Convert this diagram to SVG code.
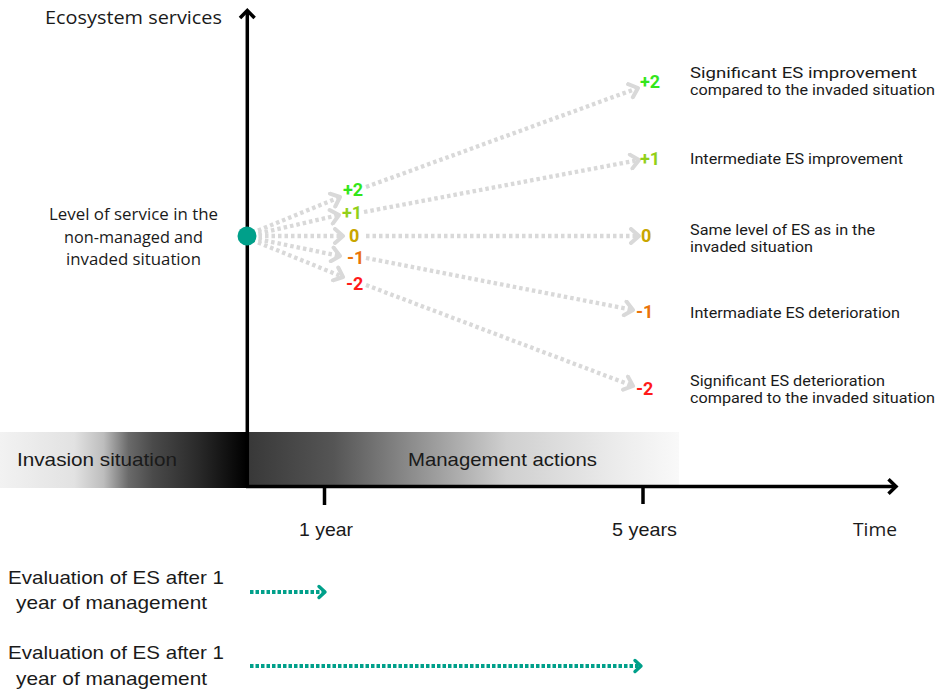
<svg xmlns="http://www.w3.org/2000/svg" width="939" height="691" viewBox="0 0 939 691">
<defs>
<linearGradient id="gLeft" x1="0" y1="0" x2="1" y2="0">
<stop offset="0" stop-color="#f2f2f2"/>
<stop offset="0.3" stop-color="#e2e2e2"/>
<stop offset="0.42" stop-color="#bdbdbd"/>
<stop offset="0.52" stop-color="#6a6a6a"/>
<stop offset="0.62" stop-color="#4a4a4a"/>
<stop offset="0.8" stop-color="#2a2a2a"/>
<stop offset="1" stop-color="#000"/>
</linearGradient>
<linearGradient id="gRight" x1="0" y1="0" x2="1" y2="0">
<stop offset="0" stop-color="#383838"/>
<stop offset="0.2" stop-color="#555"/>
<stop offset="0.38" stop-color="#8c8c8c"/>
<stop offset="0.6" stop-color="#cfcfcf"/>
<stop offset="0.85" stop-color="#ebebeb"/>
<stop offset="1" stop-color="#f9f9f9"/>
</linearGradient>
<marker id="mGray" markerWidth="14" markerHeight="18" refX="11" refY="9" orient="auto" markerUnits="userSpaceOnUse">
<path d="M3,2 L11,9 L3,16" fill="none" stroke="#d9d9d9" stroke-width="4" stroke-linecap="round" stroke-linejoin="round"/>
</marker>
<marker id="mTeal" markerWidth="12" markerHeight="16" refX="9" refY="8" orient="auto" markerUnits="userSpaceOnUse">
<path d="M3,2.5 L9,8 L3,13.5" fill="none" stroke="#00a08a" stroke-width="3.4" stroke-linecap="round" stroke-linejoin="round"/>
</marker>
</defs>
<style>
.gr{fill:none;stroke:#d9d9d9;stroke-width:4.3;stroke-dasharray:3.5 3;marker-end:url(#mGray)}
.tl{fill:none;stroke:#00a08a;stroke-width:3.8;stroke-dasharray:3.5 2;marker-end:url(#mTeal)}
.os{font-family:"Open Sans","Noto Sans",sans-serif;fill:#1a1a1a}
.rb{font-family:Roboto,"Liberation Sans",sans-serif;fill:#1a1a1a;font-size:14.5px}
.cd{font-family:"Liberation Sans",Arial,sans-serif;fill:#1a1a1a;font-size:19px}
.v{font-family:Roboto,"Liberation Sans",sans-serif;font-weight:bold;font-size:18px}
.ax{stroke:#000;stroke-width:3.5;fill:none}
</style>
<rect width="939" height="691" fill="#fff"/>

<g id="bands">
<rect x="0" y="432" width="247" height="56" fill="url(#gLeft)"/>
<rect x="247" y="432" width="432" height="54" fill="url(#gRight)"/>
<text class="cd" x="17" y="466" textLength="160" lengthAdjust="spacingAndGlyphs">Invasion situation</text>
<text class="cd" x="408" y="466" textLength="189" lengthAdjust="spacingAndGlyphs">Management actions</text>
</g>

<g id="axes">
<line class="ax" x1="247.3" y1="488" x2="247.3" y2="11"/>
<polyline class="ax" points="240,18 247.3,10.5 254.6,18"/>
<line class="ax" x1="246" y1="486.5" x2="895" y2="486.5"/>
<polyline class="ax" points="888.5,479.3 896,486.5 888.5,493.7"/>
<line class="ax" x1="324.5" y1="488" x2="324.5" y2="505"/>
<line class="ax" x1="643" y1="488" x2="643" y2="504"/>
<text class="os" x="45" y="24" font-size="19" textLength="177" lengthAdjust="spacingAndGlyphs">Ecosystem services</text>
<text class="cd" x="299" y="536" textLength="54" lengthAdjust="spacingAndGlyphs">1 year</text>
<text class="cd" x="612" y="536" textLength="65" lengthAdjust="spacingAndGlyphs">5 years</text>
<text class="os" x="853" y="536" font-size="19" textLength="44" lengthAdjust="spacingAndGlyphs">Time</text>
</g>

<g id="connectors">
<line class="gr" x1="252" y1="233" x2="340" y2="197"/>
<line class="gr" x1="252" y1="235" x2="339" y2="215"/>
<line class="gr" x1="252" y1="236" x2="343" y2="236"/>
<line class="gr" x1="252" y1="238" x2="340" y2="256"/>
<line class="gr" x1="252" y1="240" x2="343" y2="277"/>
<line class="gr" x1="366" y1="187" x2="638" y2="88"/>
<line class="gr" x1="364" y1="212" x2="639" y2="160"/>
<line class="gr" x1="366" y1="236" x2="639" y2="236"/>
<line class="gr" x1="366" y1="258" x2="633" y2="310"/>
<line class="gr" x1="366" y1="285" x2="633" y2="386"/>
<line class="tl" x1="250" y1="592" x2="325" y2="592"/>
<line class="tl" x1="250" y1="666" x2="641" y2="666"/>
</g>

<g id="origin">
<circle cx="247" cy="236" r="9.5" fill="#00a08a"/>
<text class="os" font-size="15.5"><tspan x="49" y="220" textLength="169" lengthAdjust="spacingAndGlyphs">Level of service in the</tspan><tspan x="64" y="243" textLength="139" lengthAdjust="spacingAndGlyphs">non-managed and</tspan><tspan x="66" y="265" textLength="135" lengthAdjust="spacingAndGlyphs">invaded situation</tspan></text>
</g>

<g id="short-labels">
<text class="v" x="343" y="196" fill="#33e61a">+2</text>
<text class="v" x="342" y="219" fill="#92d019">+1</text>
<text class="v" x="349" y="242" fill="#c9a600">0</text>
<text class="v" x="347" y="264" fill="#ea7308">-1</text>
<text class="v" x="346" y="290" fill="#ff1a1a">-2</text>
</g>

<g id="outcome-plus2">
<text class="v" x="640" y="88" fill="#33e61a">+2</text>
<text class="rb" x="690" y="78" textLength="227" lengthAdjust="spacingAndGlyphs">Significant ES improvement</text>
<text class="rb" x="690" y="95" textLength="245" lengthAdjust="spacingAndGlyphs">compared to the invaded situation</text>
</g>
<g id="outcome-plus1">
<text class="v" x="640" y="165" fill="#92d019">+1</text>
<text class="rb" x="690" y="164" textLength="213" lengthAdjust="spacingAndGlyphs">Intermediate ES improvement</text>
</g>
<g id="outcome-zero">
<text class="v" x="641" y="242" fill="#c9a600">0</text>
<text class="rb" x="690" y="235" textLength="185" lengthAdjust="spacingAndGlyphs">Same level of ES as in the</text>
<text class="rb" x="690" y="252" textLength="123" lengthAdjust="spacingAndGlyphs">invaded situation</text>
</g>
<g id="outcome-minus1">
<text class="v" x="636" y="318" fill="#ea7308">-1</text>
<text class="rb" x="690" y="318" textLength="210" lengthAdjust="spacingAndGlyphs">Intermadiate ES deterioration</text>
</g>
<g id="outcome-minus2">
<text class="v" x="636" y="395" fill="#ff1a1a">-2</text>
<text class="rb" x="690" y="386" textLength="195" lengthAdjust="spacingAndGlyphs">Significant ES deterioration</text>
<text class="rb" x="690" y="403" textLength="245" lengthAdjust="spacingAndGlyphs">compared to the invaded situation</text>
</g>

<g id="legend-1">
<text class="cd" x="8" y="584" textLength="216" lengthAdjust="spacingAndGlyphs">Evaluation of ES after  1</text>
<text class="cd" x="16" y="609" textLength="191" lengthAdjust="spacingAndGlyphs">year of management</text>
</g>
<g id="legend-2">
<text class="cd" x="8" y="659" textLength="216" lengthAdjust="spacingAndGlyphs">Evaluation of ES after  1</text>
<text class="cd" x="16" y="685" textLength="191" lengthAdjust="spacingAndGlyphs">year of management</text>
</g>
</svg>
